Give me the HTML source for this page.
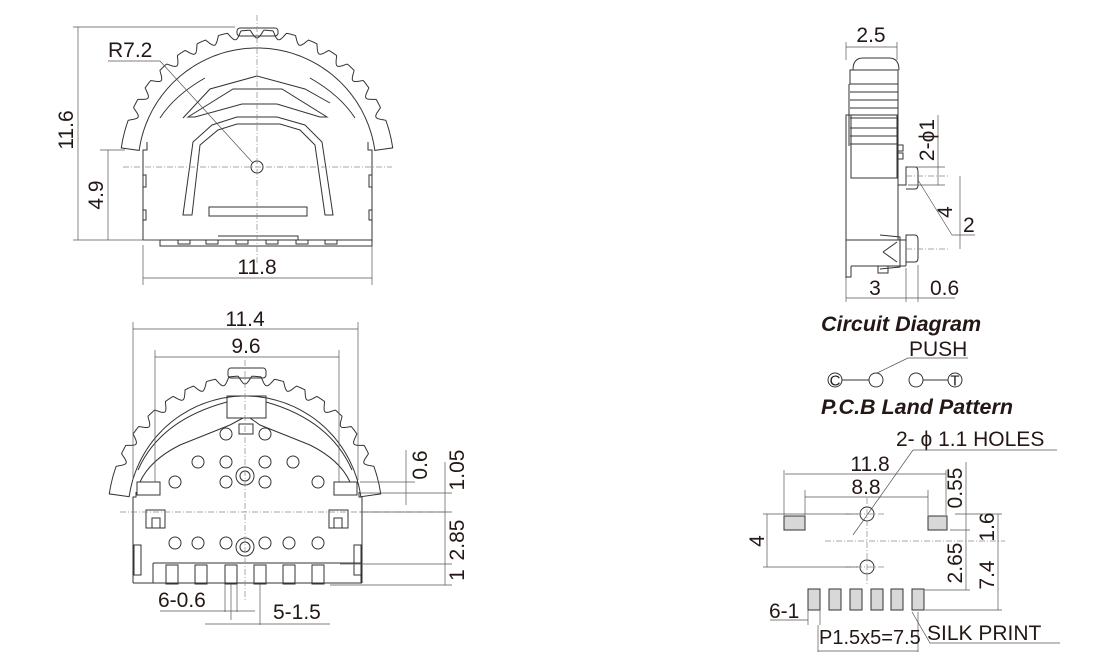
<!DOCTYPE html>
<html><head><meta charset="utf-8"><style>
html,body{margin:0;padding:0;background:#fff}
svg{display:block}
text{font-family:"Liberation Sans",sans-serif;fill:#231815}
.o{fill:none;stroke:#333;stroke-width:1}
.d{fill:none;stroke:#555;stroke-width:0.7}
.c{fill:none;stroke:#888;stroke-width:0.7;stroke-dasharray:6 2 1 2}
.p{fill:#d8d8d8;stroke:#333;stroke-width:1}
</style></head><body>
<svg id="s" width="1120" height="671" viewBox="0 0 1120 671" xmlns="http://www.w3.org/2000/svg">
<g id="g"></g>
<!-- ===== TOP VIEW ===== -->
<rect x="237" y="28" width="41" height="8" rx="3" class="o" fill="#fff"/>
<path class="o" d="M143,240 V150 h4 v-8 M372,240 V150 h-4 v-8 M143,240 h17 v6 h212 v-6 M143,175 h3 v12 h-3 M372,175 h-3 v12 h3 M143,210 h3 v10 h-3 M372,210 h-3 v10 h3"/>
<path class="o" d="M160,240 h212 M218,236 h80 v4"/>
<g class="o">
<rect x="178" y="240" width="12" height="4"/><rect x="206" y="240" width="12" height="4"/><rect x="236" y="240" width="12" height="4"/><rect x="266" y="240" width="12" height="4"/><rect x="296" y="240" width="12" height="4"/><rect x="325" y="240" width="12" height="4"/>
</g>
<path class="o" d="M160,118 Q175,95 205,78 M355,118 Q340,95 310,78"/>
<polyline class="o" points="183,118 210,89 257,76 305,89 330,103"/>
<path class="o" d="M188,117 L233,89 L282,89 L327,117 L320,117 L277,104 L242,104 L195,117 Z"/>
<path class="o" d="M183,215 L193,142 L212,125 L237,117 L277,117 L305,125 L322,142 L333,215 L325,215 L315,145 L300,130 L280,124 L237,124 L218,130 L200,145 L192,215 Z"/>
<rect x="209" y="207" width="98" height="9" class="o"/>
<circle cx="257" cy="167" r="6" class="o"/>
<line x1="257" y1="15" x2="257" y2="265" class="c"/>
<line x1="123" y1="167" x2="392" y2="167" class="c"/>
<line x1="108" y1="61" x2="160" y2="61" class="d"/><line x1="160" y1="61" x2="253" y2="163" class="d"/>
<text x="108" y="57" font-size="21">R7.2</text>
<!-- dims -->
<line x1="73" y1="27" x2="235" y2="27" class="d"/><line x1="73" y1="240" x2="160" y2="240" class="d"/>
<line x1="78" y1="27" x2="78" y2="240" class="d"/>
<line x1="100" y1="150" x2="125" y2="150" class="d"/><line x1="108" y1="150" x2="108" y2="240" class="d"/>
<text transform="translate(73,130) rotate(-90)" font-size="21" text-anchor="middle">11.6</text>
<text transform="translate(103,195) rotate(-90)" font-size="21" text-anchor="middle">4.9</text>
<line x1="143" y1="245" x2="143" y2="285" class="d"/><line x1="372" y1="245" x2="372" y2="285" class="d"/>
<line x1="143" y1="278" x2="372" y2="278" class="d"/>
<text x="257" y="274" font-size="21" text-anchor="middle">11.8</text>

<!-- ===== BOTTOM VIEW ===== -->
<rect x="228" y="368" width="38" height="10" rx="3" class="o" fill="#fff"/>
<rect x="227" y="396" width="39" height="22" class="o"/>
<path class="o" d="M133,583 V497 h3 v-5 M362,583 V497 h-3 v-5 M133,583 h229"/>
<rect x="137" y="482" width="23" height="13" class="o"/><rect x="334" y="482" width="23" height="13" class="o"/>
<rect x="146" y="510" width="19" height="18" class="o"/><rect x="152" y="518" width="8" height="10" class="o"/>
<rect x="329" y="510" width="19" height="18" class="o"/><rect x="334" y="518" width="8" height="10" class="o"/>
<rect x="134" y="545" width="7" height="30" class="o"/><rect x="354" y="545" width="7" height="30" class="o"/>
<path class="o" d="M153,563 h208 v20 M153,563 v20"/>
<path class="o" d="M140,482 Q150,460 180,445 L230,425 L243,418 M350,482 Q340,460 310,445 L260,425 L250,418"/>
<path class="o" d="M138,470 Q160,420 227,402 M352,470 Q330,420 266,402"/>
<rect x="239" y="424" width="14" height="10" class="o"/>
<g class="o">
<circle cx="226" cy="434" r="6"/><circle cx="265" cy="434" r="6"/>
<circle cx="198" cy="462" r="6"/><circle cx="226" cy="462" r="6"/><circle cx="265" cy="462" r="6"/><circle cx="293" cy="462" r="6"/>
<circle cx="175" cy="482" r="6"/><circle cx="226" cy="482" r="6"/><circle cx="265" cy="482" r="6"/><circle cx="318" cy="482" r="6"/>
<circle cx="245" cy="476" r="9"/><circle cx="245" cy="476" r="5"/>
<circle cx="175" cy="543" r="6"/><circle cx="198" cy="543" r="6"/><circle cx="226" cy="543" r="6"/><circle cx="265" cy="543" r="6"/><circle cx="289" cy="543" r="6"/><circle cx="318" cy="543" r="6"/>
<circle cx="245" cy="547" r="9"/><circle cx="245" cy="547" r="5"/>
<rect x="166" y="565" width="12" height="19"/><rect x="195" y="565" width="12" height="19"/><rect x="225" y="565" width="12" height="19"/><rect x="254" y="565" width="12" height="19"/><rect x="283" y="565" width="12" height="19"/><rect x="312" y="565" width="12" height="19"/>
</g>
<line x1="245" y1="360" x2="245" y2="600" class="c"/>
<line x1="120" y1="512" x2="450" y2="512" class="c"/>
<line x1="133" y1="322" x2="133" y2="480" class="d"/><line x1="358" y1="322" x2="358" y2="480" class="d"/>
<line x1="133" y1="329" x2="358" y2="329" class="d"/>
<text x="245" y="326" font-size="21" text-anchor="middle">11.4</text>
<line x1="155" y1="350" x2="155" y2="482" class="d"/><line x1="339" y1="350" x2="339" y2="482" class="d"/>
<line x1="155" y1="357" x2="339" y2="357" class="d"/>
<text x="246" y="353" font-size="21" text-anchor="middle">9.6</text>
<line x1="360" y1="482" x2="415" y2="482" class="d"/><line x1="360" y1="493" x2="452" y2="493" class="d"/>
<line x1="360" y1="512" x2="452" y2="512" class="d"/><line x1="340" y1="564" x2="452" y2="564" class="d"/><line x1="330" y1="585" x2="452" y2="585" class="d"/>
<line x1="406" y1="450" x2="406" y2="505" class="d"/><line x1="445" y1="462" x2="445" y2="585" class="d"/>
<text transform="translate(427,465) rotate(-90)" font-size="21" text-anchor="middle">0.6</text>
<text transform="translate(464,470) rotate(-90)" font-size="21" text-anchor="middle">1.05</text>
<text transform="translate(464,540) rotate(-90)" font-size="21" text-anchor="middle">2.85</text>
<text transform="translate(464,575) rotate(-90)" font-size="21" text-anchor="middle">1</text>
<line x1="225" y1="584" x2="225" y2="612" class="d"/><line x1="231" y1="584" x2="231" y2="620" class="d"/><line x1="237" y1="584" x2="237" y2="612" class="d"/><line x1="260" y1="584" x2="260" y2="625" class="d"/>
<line x1="160" y1="611" x2="255" y2="611" class="d"/><line x1="205" y1="624" x2="330" y2="624" class="d"/>
<text x="158" y="607" font-size="21">6-0.6</text>
<text x="273" y="619" font-size="21">5-1.5</text>

<!-- ===== SIDE VIEW ===== -->
<path class="o" d="M846,278 V115 h52 v70 h8 v-18 h9 q3,0 3,5 v13 q0,4 -3,4 h-9 M898,185 V240 h8 v-5 h9 q3,0 3,5 v18 q0,4 -3,4 h-9 v-22 M846,240 h60 v26 M851,266 v11 h-5 M851,266 h55 M878,266 v7 h10 v-7"/>
<path class="o" d="M851,115 V178 h46 V115"/>
<path class="o" d="M853,70 q0,-12 10,-12 h26 q10,0 10,12 M850,70 h48 v14 h-48 z"/>
<g class="o">
<path d="M850,84 h48 M850,92 h48 M850,100 h48 M850,108 h48 M850,118 h48 M850,128 h48 M850,136 h48 M850,144 h48"/>
<path d="M849,84 v62 M898,84 v62"/>
<path d="M898,145 h5 v6 h-5 M898,153 h5 v6 h-5"/>
<path d="M880,235 l20,2 v30 l-20,2 M883,252 l14,-10 M883,252 l14,10"/>
</g>
<line x1="906" y1="176" x2="950" y2="176" class="c"/><line x1="906" y1="249" x2="950" y2="249" class="c"/>
<line x1="846" y1="42" x2="846" y2="60" class="d"/><line x1="897" y1="42" x2="897" y2="60" class="d"/>
<line x1="846" y1="47" x2="897" y2="47" class="d"/>
<text x="871" y="42" font-size="21" text-anchor="middle">2.5</text>
<line x1="908" y1="167" x2="945" y2="167" class="d"/><line x1="908" y1="185" x2="945" y2="185" class="d"/>
<line x1="938" y1="115" x2="938" y2="185" class="d"/>
<text transform="translate(934,140) rotate(-90)" font-size="21" text-anchor="middle">2-ϕ1</text>
<line x1="918" y1="180" x2="952" y2="235" class="d"/><line x1="952" y1="235" x2="975" y2="235" class="d"/>
<text transform="translate(952,212) rotate(-90)" font-size="21" text-anchor="middle">4</text>
<line x1="960" y1="176" x2="960" y2="249" class="d"/>
<text x="963" y="232" font-size="21">2</text>
<line x1="846" y1="278" x2="846" y2="302" class="d"/><line x1="906" y1="268" x2="906" y2="302" class="d"/><line x1="918" y1="265" x2="918" y2="302" class="d"/>
<line x1="846" y1="298" x2="955" y2="298" class="d"/>
<text x="875" y="295" font-size="21" text-anchor="middle">3</text>
<text x="930" y="295" font-size="21">0.6</text>

<!-- ===== CIRCUIT ===== -->
<text x="821" y="331" font-size="21.5" font-weight="bold" font-style="italic">Circuit Diagram</text>
<text x="909" y="356" font-size="21">PUSH</text>
<polyline class="d" points="877,373 908,358 968,358"/>
<g class="o"><circle cx="835" cy="380" r="7"/><circle cx="876" cy="380" r="7"/><circle cx="916" cy="380" r="7"/><circle cx="955" cy="380" r="7"/></g>
<line x1="842" y1="380" x2="869" y2="380" class="o"/><line x1="923" y1="380" x2="948" y2="380" class="o"/>
<text x="835" y="385.5" font-size="15" text-anchor="middle">C</text>
<text x="955" y="385.5" font-size="15" text-anchor="middle">T</text>
<text x="821" y="414" font-size="21.5" font-weight="bold" font-style="italic">P.C.B Land Pattern</text>

<!-- ===== LAND PATTERN ===== -->
<text x="896" y="446" font-size="21">2- ϕ 1.1 HOLES</text>
<line x1="913" y1="450" x2="1057" y2="450" class="d"/><line x1="913" y1="450" x2="853" y2="535" class="d"/>
<rect x="784" y="516" width="21" height="14" class="p"/><rect x="928" y="516" width="19" height="14" class="p"/>
<circle cx="867" cy="514" r="7" class="o"/><circle cx="867" cy="567" r="7" class="o"/>
<line x1="867" y1="498" x2="867" y2="585" class="c"/>
<line x1="825" y1="541" x2="1005" y2="541" class="c"/>
<line x1="845" y1="514" x2="885" y2="514" class="c"/><line x1="845" y1="567" x2="885" y2="567" class="c"/>
<g class="p"><rect x="808" y="589" width="12" height="21"/><rect x="829" y="589" width="12" height="21"/><rect x="850" y="589" width="12" height="21"/><rect x="871" y="589" width="12" height="21"/><rect x="891" y="589" width="12" height="21"/><rect x="912" y="589" width="12" height="21"/></g>
<line x1="784" y1="470" x2="784" y2="515" class="d"/><line x1="946" y1="470" x2="946" y2="515" class="d"/>
<line x1="785" y1="474" x2="946" y2="474" class="d"/>
<text x="870" y="471" font-size="21" text-anchor="middle">11.8</text>
<line x1="805" y1="490" x2="805" y2="515" class="d"/><line x1="928" y1="490" x2="928" y2="515" class="d"/>
<line x1="805" y1="497" x2="928" y2="497" class="d"/>
<text x="866" y="494" font-size="21" text-anchor="middle">8.8</text>
<line x1="763" y1="514" x2="858" y2="514" class="d"/><line x1="763" y1="567" x2="858" y2="567" class="d"/>
<line x1="767" y1="514" x2="767" y2="567" class="d"/>
<text transform="translate(764,541) rotate(-90)" font-size="21" text-anchor="middle">4</text>
<line x1="966" y1="462" x2="966" y2="590" class="d"/>
<line x1="955" y1="514" x2="1002" y2="514" class="d"/><line x1="950" y1="530" x2="970" y2="530" class="d"/>
<line x1="925" y1="590" x2="970" y2="590" class="d"/><line x1="925" y1="610" x2="1002" y2="610" class="d"/>
<line x1="998" y1="514" x2="998" y2="610" class="d"/>
<text transform="translate(962,488) rotate(-90)" font-size="21" text-anchor="middle">0.55</text>
<text transform="translate(994,527) rotate(-90)" font-size="21" text-anchor="middle">1.6</text>
<text transform="translate(962,563) rotate(-90)" font-size="21" text-anchor="middle">2.65</text>
<text transform="translate(994,575) rotate(-90)" font-size="21" text-anchor="middle">7.4</text>
<line x1="808" y1="610" x2="808" y2="625" class="d"/><line x1="820" y1="610" x2="820" y2="625" class="d"/>
<line x1="770" y1="620" x2="808" y2="620" class="d"/>
<text x="769" y="618" font-size="21">6-1</text>
<line x1="818" y1="625" x2="818" y2="652" class="d"/><line x1="918" y1="612" x2="918" y2="652" class="d"/>
<line x1="818" y1="651" x2="918" y2="651" class="d"/>
<text x="819" y="644" font-size="20">P1.5x5=7.5</text>
<polyline class="d" points="912,612 930,643 1060,643"/>
<text x="927" y="640" font-size="21">SILK PRINT</text>
</svg>
<script>
(function(){
var g=document.getElementById('g');
function gear(cx,cy,r,dep,a0,a1,t0,t1,n,ri){
 var d='',N=800;
 for(var i=0;i<=N;i++){var a=a0+(a1-a0)*i/N;var rad=a*Math.PI/180;
  var rr=r;
  if(a>=t0&&a<=t1){var ph=((a-t0)/(t1-t0)*n)%1;var w=Math.cos(ph*2*Math.PI);rr=r-dep*(w>0.3?0:(0.3-w)/1.3);}
  var x=cx+rr*Math.cos(rad),y=cy+rr*Math.sin(rad);
  d+=(i?'L':'M')+x.toFixed(1)+','+y.toFixed(1);}
 for(var j=0;j<=100;j++){var b=(a1-(a1-a0)*j/100)*Math.PI/180;d+='L'+(cx+ri*Math.cos(b)).toFixed(1)+','+(cy+ri*Math.sin(b)).toFixed(1);}
 d+='Z';
 var p=document.createElementNS('http://www.w3.org/2000/svg','path');
 p.setAttribute('d',d);p.setAttribute('class','o');p.setAttribute('fill','#fff');g.appendChild(p);
}
gear(257,167,137,8,188,352,198,342,15,119);
gear(245,513,137,8,188,352,198,342,15,117);
})();
</script>
</body></html>
